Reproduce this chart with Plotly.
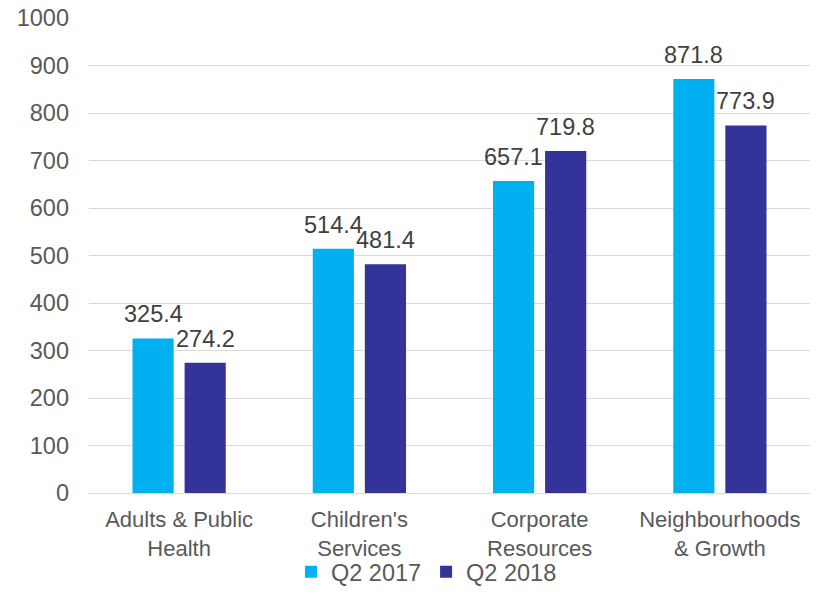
import plotly.graph_objects as go

# Departmental figures, Q2 2017 vs Q2 2018
categories = ["Adults & Public<br>Health", "Children's<br>Services",
              "Corporate<br>Resources", "Neighbourhoods<br>& Growth"]
q2_2017 = [325.4, 514.4, 657.1, 871.8]
q2_2018 = [274.2, 481.4, 719.8, 773.9]
y_ticks = [0, 100, 200, 300, 400, 500, 600, 700, 800, 900, 1000]

font_family = "Liberation Sans, Arial, sans-serif"
fs = 23.5

fig = go.Figure()
fig.add_trace(go.Bar(
    name="Q2 2017", x=categories, y=q2_2017,
    marker=dict(color="#00B0F0", line=dict(width=0)),
))
fig.add_trace(go.Bar(
    name="Q2 2018", x=categories, y=q2_2018,
    marker=dict(color="#333399", line=dict(width=0)),
))

# value labels above each bar, offset to the bar's slot within the group
for values, dx in ((q2_2017, -26), (q2_2018, 26)):
    for cat, v in zip(categories, values):
        fig.add_annotation(
            x=cat, y=v, xref="x", yref="y", text=f"{v:.1f}",
            showarrow=False, xanchor="center", yanchor="bottom",
            xshift=dx, yshift=9,
            font=dict(size=fs, color="#404040", family=font_family),
        )

fig.update_layout(
    width=830, height=611,
    margin=dict(l=89, r=20, t=18, b=118, autoexpand=False),
    paper_bgcolor="white", plot_bgcolor="white",
    barmode="group", bargap=0.422, bargroupgap=0.21,
    font=dict(family=font_family, size=fs, color="#595959"),
    legend=dict(orientation="h", x=0.468, xanchor="center", y=-0.166,
                yanchor="middle", font=dict(size=fs, color="#595959"),
                bgcolor="rgba(0,0,0,0)",
                itemwidth=30, tracegroupgap=0),
    showlegend=True,
)
fig.update_xaxes(showgrid=False, showline=False, ticks="", automargin=False,
                 tickfont=dict(size=22, color="#595959"),
                 ticklabelstandoff=11)
fig.update_yaxes(range=[0, 1000], tickvals=y_ticks, automargin=False,
                 showgrid=True, gridcolor="#D9D9D9", gridwidth=1,
                 zeroline=True, zerolinecolor="#D9D9D9", zerolinewidth=1,
                 showline=False, ticks="",
                 tickfont=dict(size=fs, color="#595959"),
                 ticklabelstandoff=19)

fig.write_html("out.html")
